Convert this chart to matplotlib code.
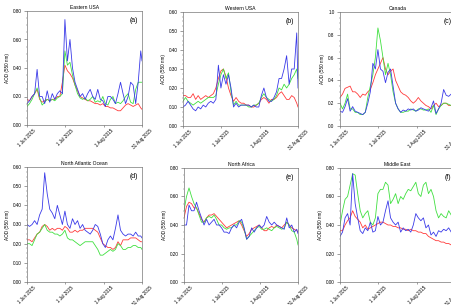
import numpy as np
import pandas as pd
import matplotlib
matplotlib.use("Agg")
import matplotlib.pyplot as plt
import matplotlib.dates as mdates
from matplotlib.ticker import MultipleLocator, FormatStrFormatter

plt.rcParams['font.family'] = ['Liberation Sans', 'DejaVu Sans']

# day offsets from 1 Jun 2015 (every 2 days, plus 31 Aug)
days = list(range(0, 91, 2)) + [91]
dates = pd.Timestamp('2015-06-01') + pd.to_timedelta(days, unit='D')

titles = ["Eastern USA", "Western USA", "Canada",
          "North Atlantic Ocean", "North Africa", "Middle East"]
panel_tags = ["(a)", "(b)", "(c)", "(d)", "(e)", "(f)"]
ymax = [0.8, 0.6, 1.0, 0.6, 0.8, 0.8]
ystep = [0.2, 0.1, 0.2, 0.1, 0.2, 0.2]
yfmt = ["%.2f", "%.2f", "%.1f", "%.2f", "%.2f", "%.2f"]

# (a) Eastern USA
a_blue = [0.15, 0.17, 0.20, 0.22, 0.39, 0.20, 0.20, 0.15, 0.24, 0.16, 0.22, 0.18,
          0.22, 0.24, 0.22, 0.74, 0.45, 0.60, 0.40, 0.30, 0.25, 0.20, 0.22, 0.18,
          0.22, 0.25, 0.20, 0.18, 0.25, 0.18, 0.17, 0.13, 0.20, 0.20, 0.18, 0.15,
          0.22, 0.30, 0.22, 0.15, 0.20, 0.30, 0.28, 0.15, 0.30, 0.52, 0.45]
a_red = [0.18, 0.17, 0.20, 0.22, 0.25, 0.18, 0.16, 0.17, 0.18, 0.17, 0.18, 0.18,
         0.20, 0.20, 0.30, 0.42, 0.38, 0.36, 0.33, 0.28, 0.24, 0.20, 0.19, 0.18,
         0.17, 0.17, 0.16, 0.15, 0.15, 0.14, 0.15, 0.13, 0.13, 0.12, 0.12, 0.11,
         0.10, 0.10, 0.12, 0.14, 0.15, 0.14, 0.13, 0.14, 0.15, 0.12, 0.11]
a_green = [0.13, 0.15, 0.18, 0.22, 0.26, 0.19, 0.14, 0.16, 0.18, 0.17, 0.18, 0.17,
           0.19, 0.20, 0.22, 0.52, 0.42, 0.44, 0.35, 0.28, 0.22, 0.19, 0.18, 0.19,
           0.17, 0.18, 0.20, 0.16, 0.17, 0.16, 0.20, 0.15, 0.14, 0.18, 0.20, 0.15,
           0.16, 0.15, 0.17, 0.20, 0.22, 0.16, 0.15, 0.25, 0.30, 0.30, 0.30]

# (b) Western USA
b_blue = [0.10, 0.11, 0.13, 0.11, 0.09, 0.08, 0.10, 0.09, 0.11, 0.10, 0.12, 0.13,
          0.12, 0.14, 0.32, 0.20, 0.27, 0.22, 0.27, 0.20, 0.10, 0.12, 0.10, 0.11,
          0.11, 0.11, 0.11, 0.10, 0.11, 0.10, 0.10, 0.16, 0.20, 0.15, 0.13, 0.13,
          0.15, 0.18, 0.25, 0.25, 0.30, 0.37, 0.22, 0.30, 0.30, 0.49, 0.20]
b_red = [0.16, 0.16, 0.15, 0.15, 0.17, 0.14, 0.16, 0.14, 0.15, 0.16, 0.15, 0.16,
         0.17, 0.20, 0.25, 0.29, 0.30, 0.26, 0.20, 0.16, 0.13, 0.15, 0.13, 0.12,
         0.12, 0.11, 0.11, 0.10, 0.10, 0.11, 0.12, 0.14, 0.15, 0.14, 0.12, 0.14,
         0.14, 0.15, 0.17, 0.18, 0.16, 0.14, 0.14, 0.16, 0.15, 0.12, 0.10]
b_green = [0.13, 0.15, 0.13, 0.12, 0.11, 0.12, 0.13, 0.12, 0.13, 0.14, 0.15, 0.15,
           0.15, 0.16, 0.22, 0.27, 0.30, 0.25, 0.28, 0.18, 0.11, 0.13, 0.11, 0.11,
           0.11, 0.11, 0.10, 0.10, 0.11, 0.11, 0.12, 0.15, 0.17, 0.15, 0.14, 0.13,
           0.14, 0.16, 0.20, 0.19, 0.22, 0.20, 0.22, 0.25, 0.27, 0.30, 0.25]

# (c) Canada
c_blue = [0.13, 0.12, 0.17, 0.24, 0.13, 0.17, 0.13, 0.12, 0.11, 0.10, 0.12, 0.20,
          0.30, 0.55, 0.50, 0.67, 0.50, 0.48, 0.38, 0.47, 0.50, 0.35, 0.20, 0.15,
          0.12, 0.14, 0.13, 0.15, 0.14, 0.15, 0.13, 0.14, 0.16, 0.15, 0.14, 0.13,
          0.16, 0.22, 0.11, 0.15, 0.20, 0.32, 0.27, 0.26, 0.28, 0.28, 0.27]
c_red = [0.25, 0.28, 0.33, 0.34, 0.35, 0.30, 0.30, 0.28, 0.25, 0.28, 0.27, 0.30,
         0.32, 0.38, 0.45, 0.50, 0.55, 0.60, 0.50, 0.45, 0.48, 0.50, 0.40, 0.35,
         0.30, 0.28, 0.27, 0.25, 0.22, 0.20, 0.22, 0.25, 0.22, 0.20, 0.18, 0.17,
         0.15, 0.18, 0.20, 0.17, 0.18, 0.20, 0.20, 0.18, 0.18, 0.18, 0.18]
c_green = [0.20, 0.15, 0.20, 0.28, 0.15, 0.15, 0.12, 0.12, 0.10, 0.10, 0.12, 0.25,
           0.35, 0.45, 0.60, 0.86, 0.75, 0.60, 0.45, 0.55, 0.45, 0.30, 0.20, 0.15,
           0.12, 0.12, 0.13, 0.13, 0.15, 0.14, 0.13, 0.15, 0.15, 0.14, 0.14, 0.15,
           0.12, 0.18, 0.10, 0.15, 0.18, 0.20, 0.20, 0.19, 0.18, 0.18, 0.18]

# (d) North Atlantic Ocean
d_blue = [0.30, 0.29, 0.30, 0.32, 0.30, 0.35, 0.38, 0.57, 0.46, 0.38, 0.36, 0.33,
          0.40, 0.35, 0.30, 0.37, 0.30, 0.28, 0.33, 0.30, 0.32, 0.28, 0.30, 0.27,
          0.26, 0.25, 0.27, 0.30, 0.29, 0.25, 0.20, 0.18, 0.22, 0.24, 0.22, 0.28,
          0.35, 0.27, 0.25, 0.24, 0.25, 0.25, 0.24, 0.26, 0.24, 0.24, 0.23]
d_red = [0.22, 0.22, 0.21, 0.23, 0.25, 0.26, 0.29, 0.30, 0.29, 0.27, 0.28, 0.27,
         0.28, 0.28, 0.27, 0.29, 0.28, 0.26, 0.26, 0.27, 0.26, 0.27, 0.27, 0.28,
         0.28, 0.28, 0.28, 0.27, 0.26, 0.23, 0.20, 0.19, 0.18, 0.18, 0.17, 0.18,
         0.21, 0.19, 0.22, 0.22, 0.22, 0.23, 0.23, 0.23, 0.22, 0.21, 0.21]
d_green = [0.20, 0.20, 0.19, 0.22, 0.25, 0.26, 0.28, 0.30, 0.27, 0.26, 0.26, 0.25,
           0.25, 0.24, 0.25, 0.27, 0.23, 0.22, 0.22, 0.21, 0.20, 0.19, 0.20, 0.21,
           0.21, 0.21, 0.21, 0.19, 0.17, 0.14, 0.14, 0.15, 0.16, 0.17, 0.16, 0.17,
           0.20, 0.19, 0.17, 0.17, 0.18, 0.18, 0.19, 0.19, 0.18, 0.18, 0.17]

# (e) North Africa
e_blue = [0.40, 0.40, 0.54, 0.50, 0.50, 0.56, 0.50, 0.45, 0.40, 0.44, 0.40, 0.42,
          0.44, 0.40, 0.40, 0.38, 0.35, 0.35, 0.34, 0.38, 0.40, 0.38, 0.42, 0.44,
          0.38, 0.30, 0.32, 0.38, 0.35, 0.38, 0.40, 0.38, 0.40, 0.46, 0.42, 0.40,
          0.42, 0.40, 0.39, 0.38, 0.37, 0.45, 0.38, 0.40, 0.35, 0.37, 0.34]
e_red = [0.45, 0.53, 0.56, 0.55, 0.52, 0.52, 0.48, 0.44, 0.42, 0.45, 0.47, 0.47,
         0.48, 0.46, 0.44, 0.42, 0.40, 0.38, 0.39, 0.40, 0.41, 0.42, 0.43, 0.40,
         0.36, 0.32, 0.34, 0.37, 0.38, 0.39, 0.40, 0.38, 0.36, 0.36, 0.38, 0.39,
         0.38, 0.40, 0.39, 0.38, 0.40, 0.42, 0.40, 0.38, 0.37, 0.36, 0.35]
e_green = [0.50, 0.60, 0.66, 0.60, 0.55, 0.52, 0.47, 0.42, 0.42, 0.45, 0.46, 0.45,
           0.47, 0.44, 0.40, 0.40, 0.38, 0.37, 0.38, 0.38, 0.40, 0.40, 0.43, 0.42,
           0.37, 0.30, 0.32, 0.34, 0.36, 0.38, 0.39, 0.37, 0.37, 0.38, 0.37, 0.36,
           0.38, 0.39, 0.38, 0.37, 0.38, 0.42, 0.40, 0.36, 0.35, 0.30, 0.26]

# (f) Middle East
f_blue = [0.32, 0.35, 0.45, 0.48, 0.40, 0.76, 0.55, 0.45, 0.36, 0.34, 0.38, 0.36,
          0.42, 0.35, 0.36, 0.46, 0.40, 0.42, 0.50, 0.57, 0.45, 0.42, 0.40, 0.42,
          0.35, 0.38, 0.36, 0.37, 0.35, 0.40, 0.48, 0.45, 0.43, 0.45, 0.38, 0.40,
          0.33, 0.35, 0.32, 0.36, 0.35, 0.37, 0.36, 0.38, 0.35, 0.36, 0.37]
f_red = [0.36, 0.36, 0.40, 0.43, 0.45, 0.50, 0.46, 0.44, 0.42, 0.38, 0.40, 0.37,
         0.38, 0.39, 0.40, 0.41, 0.42, 0.42, 0.41, 0.40, 0.40, 0.39, 0.39, 0.38,
         0.38, 0.37, 0.37, 0.36, 0.37, 0.36, 0.36, 0.35, 0.35, 0.34, 0.34, 0.32,
         0.31, 0.30, 0.29, 0.29, 0.28, 0.28, 0.27, 0.27, 0.26, 0.26, 0.25]
f_green = [0.40, 0.50, 0.58, 0.60, 0.68, 0.76, 0.75, 0.62, 0.50, 0.45, 0.48, 0.50,
           0.42, 0.40, 0.45, 0.62, 0.65, 0.65, 0.70, 0.68, 0.55, 0.58, 0.62, 0.55,
           0.60, 0.58, 0.62, 0.65, 0.64, 0.67, 0.70, 0.62, 0.60, 0.68, 0.70, 0.62,
           0.65, 0.60, 0.50, 0.45, 0.48, 0.46, 0.45, 0.50, 0.47, 0.45, 0.45]

series = [(a_red, a_green, a_blue), (b_red, b_green, b_blue), (c_red, c_green, c_blue),
          (d_red, d_green, d_blue), (e_red, e_green, e_blue), (f_red, f_green, f_blue)]

line_colors = ["#ff3b3b", "#40e040", "#3a3ae8"]

# axes boxes in figure fractions [left, bottom, width, height]
W, H = 451, 305
boxes = [
    [27 / W, 1 - 125 / H, 115 / W, 114 / H],
    [183 / W, 1 - 126 / H, 115 / W, 114 / H],
    [340 / W, 1 - 126 / H, 115 / W, 114 / H],
    [27 / W, 1 - 282 / H, 115 / W, 115 / H],
    [184 / W, 1 - 282 / H, 114 / W, 114 / H],
    [340 / W, 1 - 282 / H, 115 / W, 114 / H],
]

fig = plt.figure(figsize=(4.51, 3.05), dpi=100)

xticks = pd.to_datetime(['2015-06-01', '2015-07-01', '2015-08-01', '2015-08-31'])
xlabels = ['1 Jun 2015', '1 Jul 2015', '1 Aug 2015', '31 Aug 2015']

for i in range(6):
    ax = fig.add_axes(boxes[i])
    red, green, blue = series[i]
    ax.plot(dates, red, color=line_colors[0], lw=0.6)
    ax.plot(dates, green, color=line_colors[1], lw=0.6)
    ax.plot(dates, blue, color=line_colors[2], lw=0.6)

    ax.set_xlim(pd.Timestamp('2015-06-01'), pd.Timestamp('2015-08-31'))
    ax.set_ylim(0, ymax[i])
    ax.set_xticks(xticks)
    ax.set_xticklabels(xlabels, rotation=45, ha='center', fontsize=3.3)
    ax.yaxis.set_major_locator(MultipleLocator(ystep[i]))
    ax.yaxis.set_minor_locator(MultipleLocator(ystep[i] / 4))
    ax.yaxis.set_major_formatter(FormatStrFormatter(yfmt[i]))
    ax.tick_params(axis='y', labelsize=3.3, length=2, width=0.4, pad=2, color='#555555')
    ax.tick_params(axis='y', which='minor', length=1, width=0.3, color='#555555')
    ax.tick_params(axis='x', length=1.5, width=0.4, pad=1, color='#555555')
    for s in ax.spines.values():
        s.set_linewidth(0.5)
        s.set_color('#777777')
    ax.set_ylabel('AOD (550 nm)', fontsize=3.3, labelpad=2)
    ax.set_title(titles[i], fontsize=3.6, pad=1.5)
    ax.text(0.97, 0.95, panel_tags[i], transform=ax.transAxes, ha='right', va='top',
            fontsize=5)

fig.savefig("out.png", dpi=100)
